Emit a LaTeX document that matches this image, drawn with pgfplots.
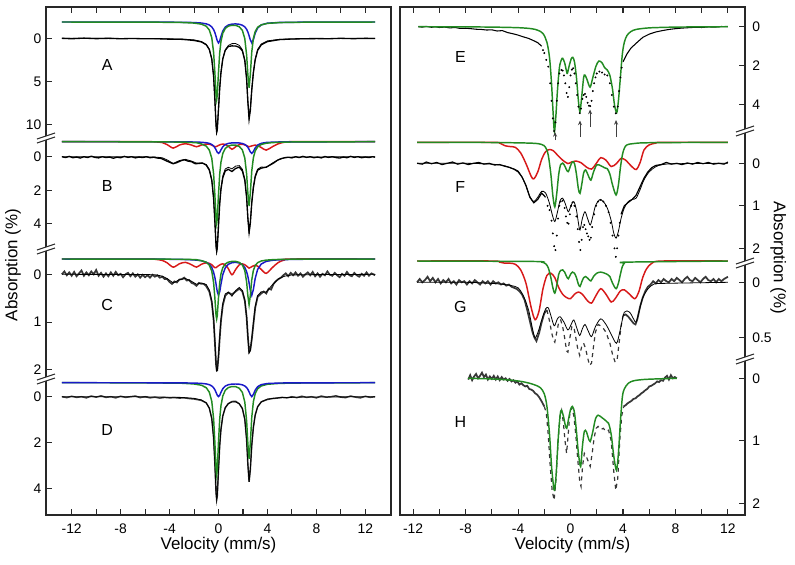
\documentclass[border=0pt]{standalone}
\usepackage{fontspec}
\setmainfont{Liberation Sans}
\usepackage{pgfplots}
\pgfplotsset{compat=1.18}
\usetikzlibrary{arrows.meta}
\definecolor{cgreen}{RGB}{34,139,34}
\definecolor{cblue}{RGB}{25,25,200}
\definecolor{cred}{RGB}{215,25,25}
\definecolor{cdata}{RGB}{55,55,55}
\definecolor{cframe}{RGB}{40,40,40}
\pgfplotsset{
 sA/.style={y filter/.expression={38.3+8.6*y}},
 sAc/.style={y filter/.expression={22+8.6*y}},
 sB/.style={y filter/.expression={156.7+16.8*y}},
 sBc/.style={y filter/.expression={141.7+16.8*y}},
 sC/.style={y filter/.expression={274.3+47.8*y}},
 sCc/.style={y filter/.expression={259+47.8*y}},
 sD/.style={y filter/.expression={396.7+22.9*y}},
 sDc/.style={y filter/.expression={382.7+22.9*y}},
 sE/.style={y filter/.expression={26.7+19.5*y}},
 sF/.style={y filter/.expression={163.3+42.5*y}},
 sFc/.style={y filter/.expression={142.3+42.5*y}},
 sG/.style={y filter/.expression={282.3+110.8*y}},
 sGc/.style={y filter/.expression={261+110.8*y}},
 sH/.style={y filter/.expression={378.3+62.5*y}},
 fitl/.style={black, line width=0.6pt},
 datal/.style={black, line width=1.0pt},
 datag/.style={cdata, line width=1.3pt},
 grn/.style={cgreen, line width=1.1pt},
 blu/.style={cblue, line width=1.1pt},
 rd/.style={cred, line width=1.1pt, smooth, tension=0.5},
 dots/.style={only marks, mark=*, mark size=0.5pt, black},
 panel/.style={scale only axis, width=258.75pt, height=381pt,
  ymin=7, ymax=515, y dir=reverse,
  axis line style={line width=1pt, cframe},
  every tick/.style={line width=0.8pt, cframe},
  major tick length=4.5pt, tick align=inside,
  xtick={-12,-10,-8,-6,-4,-2,0,2,4,6,8,10,12},
  xticklabels={-12,,-8,,-4,,0,,4,,8,,12},
  xtick pos=both, xticklabel pos=lower,
  ticklabel style={font=\fontsize{10.4}{12}\selectfont},
  xticklabel style={yshift=-3pt},
  label style={font=\fontsize{12.7}{15}\selectfont},
  xlabel={Velocity (mm/s)},
  xlabel style={at={(axis description cs:0.5,-0.059)}, anchor=center},
  clip=false},
}
\begin{document}
\begin{tikzpicture}
\path[use as bounding box] (0,0) rectangle (596.25pt,-423pt);
% ================= LEFT PANEL =================
\begin{axis}[panel, at={(34.5pt,-5.25pt)}, anchor=north west,
  xmin=-14.1, xmax=14.1,
  ytick={38.3,81.3,124.3,156.7,190.3,223.9,274.3,322.1,369.9,396.7,442.5,488.3},
  yticklabels={0,5,10,0,2,4,0,1,2,0,2,4},
  ytick pos=left, yticklabel pos=left,
  ylabel={Absorption (\%)},
  ylabel style={at={(axis description cs:-0.096,0.492)}, anchor=center, rotate=0}]
% ---- A ----
\addplot[datal, sA] coordinates {(-12.8,0.0) (-12,0.05) (-11,-0.02) (-10,0.04) (-9,0.0) (-8,0.05) (-7,0.02) (-6,0.06) (-5,0.05) (-4,0.1) (-3,0.12) (-2.5,0.18) (-2,0.25) (-1.4,0.42) (-1.0,0.75) (-0.75,1.3) (-0.55,2.4) (-0.4,4.4) (-0.3,7.0) (-0.2,10.1) (-0.15,10.9) (-0.1,10.6) (0,8.2) (0.1,5.8) (0.2,4.0) (0.35,2.4) (0.55,1.4) (0.8,0.95) (1.1,0.88) (1.4,0.9) (1.7,1.05) (1.95,1.45) (2.15,2.6) (2.3,4.8) (2.4,7.4) (2.5,9.4) (2.6,8.4) (2.72,6.0) (2.85,4.0) (3.0,2.5) (3.2,1.4) (3.5,0.75) (4.0,0.38) (5,0.15) (6,0.08) (7,0.05) (8,0.03) (9,0.05) (10,0.0) (11,0.04) (12,0.01) (12.8,0.02)};
\addplot[fitl, sA] coordinates {(-12.8,0) (-6,.017) (-3,.084) (-2,.185) (-1.4,.366) (-1.0,.705) (-0.75,1.28) (-0.55,2.40) (-0.4,4.43) (-0.3,7.02) (-0.2,10.18) (-0.15,10.98) (-0.1,10.69) (0,8.24) (0.1,5.75) (0.2,3.96) (0.35,2.36) (0.55,1.35) (0.8,.84) (1.1,.62) (1.4,.61) (1.7,.82) (1.95,1.34) (2.15,2.51) (2.3,4.72) (2.4,7.29) (2.5,9.24) (2.6,8.21) (2.72,5.90) (2.85,3.96) (3.0,2.40) (3.2,1.30) (3.5,.66) (4.0,.30) (5,.114) (7,.041) (12.8,0)};
\addplot[blu, sAc] coordinates {(-12.8,0) (-6,.008) (-3,.031) (-2,.062) (-1.4,.118) (-1.0,.214) (-0.75,.348) (-0.55,.569) (-0.4,.883) (-0.3,1.22) (-0.2,1.68) (-0.15,1.94) (-0.1,2.18) (0,2.43) (0.1,2.19) (0.2,1.69) (0.35,1.05) (0.55,.595) (0.8,.353) (1.1,.245) (1.4,.223) (1.7,.264) (1.95,.372) (2.15,.566) (2.3,.852) (2.4,1.16) (2.5,1.59) (2.6,2.08) (2.72,2.43) (2.85,2.04) (3.0,1.30) (3.2,.694) (3.5,.329) (4.0,.139) (5,.05) (7,.017) (12.8,0)};
\addplot[grn, sAc] coordinates {(-12.8,0) (-6,.009) (-3,.053) (-2,.123) (-1.4,.248) (-1.0,.491) (-0.75,.93) (-0.55,1.83) (-0.4,3.55) (-0.3,5.80) (-0.2,8.50) (-0.15,9.04) (-0.1,8.51) (0,5.81) (0.1,3.56) (0.2,2.27) (0.35,1.31) (0.55,.75) (0.8,.48) (1.1,.38) (1.4,.39) (1.7,.56) (1.95,.97) (2.15,1.94) (2.3,3.86) (2.4,6.13) (2.5,7.65) (2.6,6.13) (2.72,3.47) (2.85,1.92) (3.0,1.10) (3.2,.61) (3.5,.33) (4.0,.16) (5,.064) (7,.024) (12.8,0)};
% ---- B ----
\addplot[datal, sB] coordinates {(-12.8,0.0) (-12.5,0.05) (-12.2,-0.02) (-11.9,0.06) (-11.6,0.02) (-11.3,0.08) (-11,0.0) (-10.7,0.05) (-10.4,-0.03) (-10.1,0.04) (-9.8,0.07) (-9.5,0.0) (-9.2,0.05) (-8.9,0.02) (-8.6,0.09) (-8.3,0.03) (-8,0.06) (-7.7,-0.02) (-7.4,0.04) (-7.1,0.0) (-6.8,0.07) (-6.5,0.02) (-6.2,0.05) (-5.9,0.0) (-5.6,0.06) (-5.3,0.03) (-5.0,0.08) (-4.7,0.1) (-4.4,0.2) (-4.1,0.3) (-3.7,0.42) (-3.4,0.35) (-3.1,0.25) (-2.8,0.18) (-2.5,0.26) (-2.2,0.3) (-1.9,0.42) (-1.6,0.4) (-1.3,0.38) (-1.0,.5) (-0.75,.8) (-0.55,1.4) (-0.4,2.5) (-0.3,3.8) (-0.2,5.3) (-0.15,5.6) (-0.1,5.4) (0,4.1) (0.1,2.8) (0.2,1.95) (0.35,1.25) (0.55,.85) (0.8,.75) (1.1,.88) (1.4,.7) (1.7,.62) (1.95,.85) (2.15,1.4) (2.3,2.45) (2.4,3.65) (2.5,4.5) (2.6,3.95) (2.72,2.75) (2.85,1.85) (3.0,1.2) (3.2,.8) (3.5,.68) (3.9,0.62) (4.2,0.5) (4.5,0.38) (4.8,0.22) (5.1,0.12) (5.4,0.06) (5.7,0.03) (6.0,0.07) (6.3,0.0) (6.6,0.05) (6.9,-0.02) (7.2,0.04) (7.5,0.0) (7.8,0.06) (8.1,0.02) (8.4,0.07) (8.7,-0.01) (9.0,0.04) (9.3,0.0) (9.6,0.05) (9.9,0.08) (10.2,0.02) (10.5,0.06) (10.8,-0.02) (11.1,0.04) (11.4,0.0) (11.7,0.06) (12.0,0.02) (12.3,0.05) (12.6,0.0) (12.8,0.03)};
\addplot[fitl, sB] coordinates {(-12.8,0) (-6,.007) (-5.2,.02) (-4.6,.063) (-4.2,.19) (-3.7,.404) (-3.2,.228) (-2.7,.158) (-2.2,.261) (-1.8,.38) (-1.4,.367) (-1.0,.465) (-0.75,.751) (-0.55,1.35) (-0.4,2.43) (-0.3,3.78) (-0.2,5.36) (-0.15,5.72) (-0.1,5.48) (0,4.05) (0.1,2.74) (0.2,1.87) (0.35,1.15) (0.55,.73) (0.8,.63) (1.1,.72) (1.4,.56) (1.7,.53) (1.95,.75) (2.15,1.33) (2.3,2.42) (2.4,3.67) (2.5,4.59) (2.6,3.95) (2.72,2.68) (2.85,1.77) (3.0,1.12) (3.2,.74) (3.5,.61) (3.9,.64) (4.4,.38) (4.9,.17) (5.4,.068) (6,.024) (7,.017) (12.8,0)};
\addplot[rd, sBc] coordinates {(-12.8,0) (-6,0) (-5.2,.01) (-4.6,.05) (-4.2,.17) (-3.7,.38) (-3.2,.2) (-2.7,.12) (-2.2,.2) (-1.8,.3) (-1.4,.2) (-1.0,.14) (-0.75,.15) (-0.55,.2) (-0.4,.26) (-0.3,.3) (-0.2,.29) (-0.1,.26) (0,.22) (0.2,.16) (0.35,.14) (0.55,.16) (0.8,.27) (1.1,.45) (1.4,.3) (1.7,.17) (1.95,.15) (2.15,.19) (2.4,.27) (2.5,.3) (2.72,.25) (3.0,.2) (3.2,.24) (3.5,.35) (3.9,.5) (4.4,.3) (4.9,.12) (5.4,.03) (6,0) (12.8,0)};
\addplot[blu, sBc] coordinates {(-12.8,0) (-6,.002) (-5.2,.003) (-4.6,.003) (-4.2,.005) (-3.7,.006) (-3.2,.007) (-2.7,.01) (-2.2,.015) (-1.8,.021) (-1.4,.034) (-1.0,.061) (-0.75,.1) (-0.55,.164) (-0.4,.254) (-0.3,.351) (-0.2,.482) (-0.15,.559) (-0.1,.628) (0,.698) (0.1,.63) (0.2,.486) (0.35,.301) (0.55,.171) (0.8,.101) (1.1,.07) (1.4,.064) (1.7,.076) (1.95,.107) (2.15,.163) (2.3,.245) (2.4,.333) (2.5,.458) (2.6,.602) (2.72,.698) (2.85,.587) (3.0,.373) (3.2,.2) (3.5,.095) (3.9,.046) (4.4,.025) (4.9,.016) (5.4,.011) (6,.008) (7,.005) (12.8,0)};
\addplot[grn, sBc] coordinates {(-12.8,0) (-6,.005) (-5.2,.007) (-4.6,.01) (-4.2,.015) (-3.7,.018) (-3.2,.021) (-2.7,.028) (-2.2,.046) (-1.8,.059) (-1.4,.133) (-1.0,.264) (-0.75,.501) (-0.55,.987) (-0.4,1.914) (-0.3,3.13) (-0.2,4.59) (-0.15,4.88) (-0.1,4.59) (0,3.13) (0.1,1.92) (0.2,1.22) (0.35,.705) (0.55,.403) (0.8,.257) (1.1,.198) (1.4,.2) (1.7,.283) (1.95,.488) (2.15,.974) (2.3,1.934) (2.4,3.07) (2.5,3.83) (2.6,3.07) (2.72,1.73) (2.85,.959) (3.0,.549) (3.2,.304) (3.5,.164) (3.9,.091) (4.4,.054) (4.9,.036) (5.4,.027) (6,.016) (7,.012) (12.8,0)};
% ---- C ----
\addplot[datag, sC] coordinates {(-12.8,0.0) (-12.6,-0.06) (-12.4,0.02) (-12.2,-0.04) (-12.0,0.03) (-11.8,-0.05) (-11.6,0.04) (-11.4,-0.02) (-11.2,-0.08) (-11.0,0.03) (-10.8,-0.04) (-10.6,0.02) (-10.4,-0.06) (-10.2,0.0) (-10.0,-0.09) (-9.8,0.03) (-9.6,-0.03) (-9.4,0.05) (-9.2,-0.02) (-9.0,0.04) (-8.8,-0.04) (-8.6,0.03) (-8.4,-0.05) (-8.2,0.02) (-8.0,-0.01) (-7.8,0.06) (-7.6,0.0) (-7.4,-0.03) (-7.2,0.04) (-7.0,-0.02) (-6.8,0.05) (-6.6,0.0) (-6.4,0.07) (-6.2,0.01) (-6.0,0.06) (-5.8,0.02) (-5.6,0.07) (-5.4,0.01) (-5.2,0.05) (-5.0,0.02) (-4.8,0.07) (-4.6,0.05) (-4.4,0.1) (-4.2,0.1) (-4.0,0.16) (-3.8,0.2) (-3.6,0.15) (-3.4,0.17) (-3.2,0.11) (-3.0,0.1) (-2.8,0.07) (-2.6,0.13) (-2.4,0.12) (-2.2,0.18) (-2.0,0.2) (-1.8,0.24) (-1.6,0.18) (-1.4,0.2) (-1.2,0.2) (-1.0,.25) (-0.75,.36) (-0.55,.58) (-0.4,.95) (-0.3,1.4) (-0.2,1.88) (-0.15,2.0) (-0.1,2.0) (0,1.72) (0.1,1.33) (0.2,.98) (0.35,.65) (0.55,.45) (0.8,.38) (1.1,.42) (1.4,.36) (1.7,.3) (1.95,.36) (2.15,.55) (2.3,.9) (2.4,1.3) (2.5,1.62) (2.6,1.58) (2.72,1.36) (2.85,1.05) (3.0,.7) (3.2,.47) (3.5,.4) (3.7,0.36) (3.9,0.4) (4.1,0.3) (4.3,0.32) (4.5,0.2) (4.7,0.14) (4.9,0.1) (5.1,0.07) (5.3,0.02) (5.5,-0.02) (5.7,0.04) (5.9,-0.03) (6.1,0.02) (6.3,-0.04) (6.5,0.03) (6.7,-0.02) (6.9,0.05) (7.1,0.0) (7.3,-0.04) (7.5,0.02) (7.7,-0.05) (7.9,0.04) (8.1,-0.02) (8.3,0.05) (8.5,-0.01) (8.7,0.02) (8.9,-0.06) (9.1,0.01) (9.3,0.03) (9.5,-0.03) (9.7,0.02) (9.9,0.06) (10.1,-0.01) (10.3,0.03) (10.5,-0.05) (10.7,0.02) (10.9,0.04) (11.1,-0.03) (11.3,0.02) (11.5,0.05) (11.7,-0.01) (11.9,0.03) (12.1,-0.04) (12.3,0.03) (12.5,-0.02) (12.8,0.02)};
\addplot[fitl, sC] coordinates {(-12.8,0) (-6,.004) (-5.2,.01) (-4.6,.037) (-4.2,.089) (-3.7,.181) (-3.2,.113) (-2.7,.088) (-2.2,.147) (-1.8,.208) (-1.4,.181) (-1.0,.215) (-0.75,.328) (-0.55,.552) (-0.4,.928) (-0.3,1.37) (-0.2,1.88) (-0.15,2.03) (-0.1,2.02) (0,1.71) (0.1,1.30) (0.2,.952) (0.35,.608) (0.55,.409) (0.8,.376) (1.1,.457) (1.4,.34) (1.7,.274) (1.95,.338) (2.15,.541) (2.3,.9) (2.4,1.30) (2.5,1.65) (2.6,1.60) (2.72,1.35) (2.85,1.02) (3.0,.672) (3.2,.443) (3.5,.364) (3.9,.373) (4.4,.221) (4.9,.096) (5.4,.039) (6,.013) (7,.008) (12.8,0)};
\addplot[rd, sCc] coordinates {(-12.8,0) (-6,0) (-5.2,.005) (-4.6,.03) (-4.2,.08) (-3.7,.17) (-3.2,.1) (-2.7,.07) (-2.2,.12) (-1.8,.17) (-1.4,.11) (-1.0,.08) (-0.75,.09) (-0.55,.12) (-0.4,.16) (-0.3,.18) (-0.2,.18) (-0.1,.16) (0,.14) (0.2,.11) (0.35,.1) (0.55,.12) (0.8,.2) (1.1,.33) (1.4,.22) (1.7,.12) (1.95,.1) (2.15,.12) (2.4,.17) (2.5,.19) (2.72,.16) (3.0,.13) (3.2,.15) (3.5,.22) (3.9,.3) (4.4,.18) (4.9,.07) (5.4,.02) (6,0) (12.8,0)};
\addplot[blu, sCc] coordinates {(-12.8,0) (-6,.003) (-5.2,.003) (-4.6,.004) (-4.2,.005) (-3.7,.006) (-3.2,.008) (-2.7,.011) (-2.2,.017) (-1.8,.023) (-1.4,.037) (-1.0,.067) (-0.75,.109) (-0.55,.178) (-0.4,.276) (-0.3,.382) (-0.2,.524) (-0.15,.608) (-0.1,.683) (0,.759) (0.1,.685) (0.2,.528) (0.35,.327) (0.55,.186) (0.8,.11) (1.1,.077) (1.4,.07) (1.7,.083) (1.95,.116) (2.15,.177) (2.3,.266) (2.4,.362) (2.5,.498) (2.6,.655) (2.72,.759) (2.85,.638) (3.0,.405) (3.2,.217) (3.5,.103) (3.9,.05) (4.4,.027) (4.9,.017) (5.4,.012) (6,.009) (7,.005) (12.8,0)};
\addplot[grn, sCc] coordinates {(-12.8,0) (-6,.001) (-5.2,.002) (-4.6,.003) (-4.2,.004) (-3.7,.005) (-3.2,.005) (-2.7,.007) (-2.2,.01) (-1.8,.015) (-1.4,.034) (-1.0,.068) (-0.75,.129) (-0.55,.254) (-0.4,.492) (-0.3,.805) (-0.2,1.18) (-0.15,1.255) (-0.1,1.18) (0,.806) (0.1,.494) (0.2,.314) (0.35,.181) (0.55,.103) (0.8,.066) (1.1,.05) (1.4,.05) (1.7,.071) (1.95,.122) (2.15,.244) (2.3,.484) (2.4,.768) (2.5,.958) (2.6,.768) (2.72,.434) (2.85,.24) (3.0,.137) (3.2,.076) (3.5,.041) (3.9,.023) (4.4,.014) (4.9,.009) (5.4,.007) (6,.004) (7,.003) (12.8,0)};
% ---- D ----
\addplot[datag, line width=1.1pt, sD] coordinates {(-12.8,0.0) (-12.4,0.04) (-12,-0.02) (-11.6,0.03) (-11.2,0.0) (-10.8,0.05) (-10.4,-0.03) (-10,0.02) (-9.6,-0.04) (-9.2,0.03) (-8.8,0.0) (-8.4,0.05) (-8,-0.02) (-7.6,0.03) (-7.2,0.0) (-6.8,-0.03) (-6.4,0.04) (-6,0.0) (-5.6,0.05) (-5.2,0.02) (-4.8,0.06) (-4.4,0.03) (-4,0.05) (-3.6,0.04) (-3.2,0.06) (-2.8,0.05) (-2.4,0.08) (-2,0.1) (-1.4,0.16) (-1.0,.271) (-0.75,.50) (-0.55,.955) (-0.4,1.80) (-0.3,2.88) (-0.2,4.20) (-0.15,4.50) (-0.1,4.33) (0,3.19) (0.1,2.13) (0.2,1.43) (0.35,.844) (0.55,.482) (0.8,.302) (1.1,.21) (1.4,.2) (1.7,.309) (1.95,.515) (2.15,.986) (2.3,1.89) (2.4,2.95) (2.5,3.72) (2.6,3.19) (2.72,2.11) (2.85,1.34) (3.0,.80) (3.2,.437) (3.5,.223) (4.0,0.12) (4.4,0.08) (4.8,0.06) (5.2,0.03) (5.6,0.05) (6,0.0) (6.4,0.04) (6.8,-0.02) (7.2,0.03) (7.6,0.0) (8,0.05) (8.4,-0.03) (8.8,0.02) (9.2,0.0) (9.6,-0.04) (10,0.02) (10.4,0.04) (10.8,-0.03) (11.2,0.02) (11.6,0.05) (12,-0.02) (12.4,0.03) (12.8,0.0)};
\addplot[fitl, sD] coordinates {(-12.8,0) (-6,.006) (-3,.031) (-2,.071) (-1.4,.139) (-1.0,.271) (-0.75,.50) (-0.55,.955) (-0.4,1.80) (-0.3,2.88) (-0.2,4.20) (-0.15,4.50) (-0.1,4.33) (0,3.19) (0.1,2.13) (0.2,1.43) (0.35,.844) (0.55,.482) (0.8,.302) (1.1,.227) (1.4,.226) (1.7,.309) (1.95,.515) (2.15,.986) (2.3,1.89) (2.4,2.95) (2.5,3.72) (2.6,3.19) (2.72,2.11) (2.85,1.34) (3.0,.80) (3.2,.437) (3.5,.223) (4.0,.103) (5,.041) (7,.015) (12.8,0)};
\addplot[grn, sDc] coordinates {(-12.8,0) (-6,.004) (-3,.023) (-2,.055) (-1.4,.11) (-1.0,.218) (-0.75,.413) (-0.55,.813) (-0.4,1.577) (-0.3,2.577) (-0.2,3.777) (-0.15,4.017) (-0.1,3.78) (0,2.58) (0.1,1.583) (0.2,1.007) (0.35,.582) (0.55,.333) (0.8,.214) (1.1,.166) (1.4,.17) (1.7,.243) (1.95,.422) (2.15,.844) (2.3,1.678) (2.4,2.664) (2.5,3.324) (2.6,2.664) (2.72,1.505) (2.85,.832) (3.0,.475) (3.2,.264) (3.5,.141) (4.0,.068) (5,.028) (7,.011) (12.8,0)};
\addplot[blu, sDc] coordinates {(-12.8,0) (-6,.002) (-3,.008) (-2,.016) (-1.4,.029) (-1.0,.053) (-0.75,.087) (-0.55,.142) (-0.4,.221) (-0.3,.305) (-0.2,.419) (-0.15,.486) (-0.1,.546) (0,.607) (0.1,.548) (0.2,.422) (0.35,.262) (0.55,.149) (0.8,.088) (1.1,.061) (1.4,.056) (1.7,.066) (1.95,.093) (2.15,.142) (2.3,.213) (2.4,.29) (2.5,.398) (2.6,.524) (2.72,.607) (2.85,.511) (3.0,.324) (3.2,.173) (3.5,.082) (4.0,.035) (5,.013) (7,.004) (12.8,0)};
% letters
\node[font=\fontsize{12}{14}\selectfont] at (axis cs:-9.1,65) {A};
\node[font=\fontsize{12}{14}\selectfont] at (axis cs:-9.1,186) {B};
\node[font=\fontsize{12}{14}\selectfont] at (axis cs:-9.1,305) {C};
\node[font=\fontsize{12}{14}\selectfont] at (axis cs:-9.1,430) {D};
\end{axis}
% ================= RIGHT PANEL =================
\begin{axis}[panel, at={(300pt,-5.25pt)}, anchor=north west,
  xmin=-13.0, xmax=13.3,
  ytick={26.7,65.7,104.7,163.3,205.8,248.3,282.3,337.7,378.3,440.8,503.3},
  yticklabels={0,2,4,0,1,2,0,0.5,0,1,2},
  ytick pos=right, yticklabel pos=right,
  yticklabel style={xshift=2pt},
  ylabel={Absorption (\%)},
  ylabel style={at={(axis description cs:1.096,0.506)}, anchor=center, rotate=180}]
% ---- E ----
\addplot[datal, line width=0.8pt, sE] coordinates {(-11.6,0.0) (-11.3,0.02) (-11,-0.02) (-10.6,0.03) (-10.3,0.0) (-10,0.04) (-9.6,0.02) (-9.2,0.06) (-8.8,0.04) (-8.4,0.09) (-8,0.08) (-7.6,0.1) (-7.2,0.13) (-6.8,0.14) (-6.4,0.17) (-6,0.16) (-5.6,0.22) (-5.2,0.2) (-4.8,0.3) (-4.4,0.36) (-4,0.43) (-3.6,0.52) (-3.2,0.6) (-2.8,0.72) (-2.5,0.82) (-2.2,1.0)};
\addplot[dots, sE] coordinates {(-2.1,1.2) (-2.0,1.35) (-1.85,1.7) (-1.7,2.05) (-1.55,2.9) (-1.45,3.8) (-1.35,4.7) (-1.25,5.35) (-1.15,4.9) (-1.05,3.8) (-0.95,2.9) (-0.85,2.4) (-0.7,2.22) (-0.6,2.25) (-0.5,2.5) (-0.4,2.9) (-0.3,3.4) (-0.2,3.6) (-0.1,3.1) (0,2.5) (0.1,2.2) (0.2,2.13) (0.3,2.4) (0.4,2.9) (0.5,3.5) (0.6,4.1) (0.7,4.43) (0.8,4.2) (0.9,3.7) (1.0,3.5) (1.1,3.45) (1.2,3.6) (1.3,3.9) (1.4,4.05) (1.5,4.07) (1.6,3.8) (1.7,3.3) (1.8,2.9) (1.9,2.6) (2.0,2.4) (2.2,2.3) (2.4,2.35) (2.6,2.45) (2.8,2.5) (3.0,2.9) (3.15,3.5) (3.3,4.1) (3.45,4.44) (3.6,4.1) (3.7,3.3) (3.8,2.6) (3.9,2.1)};
\addplot[datal, line width=0.8pt, sE] coordinates {(4.0,1.8) (4.3,1.4) (4.6,1.1) (5.0,0.85) (5.5,0.55) (6.0,0.38) (6.5,0.27) (7,0.2) (7.5,0.14) (8,0.1) (8.5,0.07) (9,0.05) (9.5,0.03) (10,0.04) (10.5,0.01) (11,0.02) (11.5,-0.01) (12,0.0)};
\addplot[grn, smooth, tension=0.5, sE] coordinates {(-11.6,0) (-8,0.01) (-6,0.02) (-4,0.05) (-3,0.1) (-2.5,0.18) (-2.1,0.35) (-1.8,0.8) (-1.6,1.6) (-1.45,2.9) (-1.33,4.4) (-1.23,5.38) (-1.12,4.6) (-1.0,3.3) (-0.85,2.1) (-0.7,1.7) (-0.6,1.62) (-0.45,1.85) (-0.3,2.3) (-0.24,2.39) (-0.1,2.0) (0.05,1.65) (0.17,1.57) (0.3,1.8) (0.45,2.6) (0.6,3.8) (0.72,4.36) (0.85,3.6) (1.0,2.6) (1.1,2.48) (1.25,2.7) (1.49,3.1) (1.7,2.6) (1.95,2.0) (2.17,1.76) (2.4,1.85) (2.6,2.1) (2.8,2.22) (3.0,2.5) (3.2,3.2) (3.35,4.0) (3.52,4.41) (3.65,3.8) (3.8,2.6) (3.95,1.4) (4.1,0.8) (4.3,0.45) (4.6,0.25) (5,0.14) (6,0.06) (8,0.02) (10,0.01) (12,0)};
\draw[-{Stealth[length=3.5pt,width=3pt]}, black!75, line width=0.7pt] (axis cs:-1.18,140) -- (axis cs:-1.18,132);
\draw[-{Stealth[length=3.5pt,width=3pt]}, black!75, line width=0.7pt] (axis cs:0.72,137) -- (axis cs:0.72,120.5);
\draw[-{Stealth[length=3.5pt,width=3pt]}, black!75, line width=0.7pt] (axis cs:1.49,127) -- (axis cs:1.49,109.5);
\draw[-{Stealth[length=3.5pt,width=3pt]}, black!75, line width=0.7pt] (axis cs:3.47,137) -- (axis cs:3.47,120);
% ---- F ----
\addplot[datal, line width=0.9pt, sF] coordinates {(-11.7,0.0) (-11.3,0.02) (-11,-0.03) (-10.6,0.01) (-10.2,-0.02) (-9.8,0.03) (-9.4,0.0) (-9,-0.03) (-8.6,0.02) (-8.2,-0.01) (-7.8,0.03) (-7.4,0.0) (-7,-0.02) (-6.6,0.02) (-6.2,0.0) (-5.8,0.04) (-5.4,0.03) (-5,0.07) (-4.6,0.1) (-4.3,0.14) (-4.0,0.2) (-3.7,0.32) (-3.4,0.52) (-3.1,0.8) (-2.8,0.93) (-2.5,0.85) (-2.2,0.7) (-1.9,0.8)};
\addplot[dots, sF] coordinates {(-1.75,1.0) (-1.6,1.1) (-1.45,1.35) (-1.35,1.65) (-1.25,1.95) (-1.15,2.04) (-1.05,1.7) (-0.95,1.3) (-0.85,1.0) (-0.75,0.9) (-0.6,0.88) (-0.45,1.05) (-0.35,1.25) (-0.25,1.4) (-0.15,1.42) (-0.05,1.2) (0.05,1.0) (0.15,0.92) (0.3,1.0) (0.45,1.25) (0.55,1.55) (0.65,1.85) (0.75,2.04) (0.85,1.8) (0.95,1.5) (1.05,1.45) (1.15,1.55) (1.25,1.65) (1.35,1.72) (1.45,1.8) (1.55,1.75) (1.65,1.5) (1.8,1.2) (1.95,1.0) (2.1,0.9) (2.3,0.86) (2.5,0.9) (2.7,1.0) (2.9,1.15) (3.05,1.4) (3.2,1.7) (3.35,2.0) (3.45,2.2) (3.55,2.0) (3.65,1.7) (3.75,1.4)};
\addplot[datal, line width=0.9pt, sF] coordinates {(3.85,1.2) (4.1,1.0) (4.4,0.92) (4.7,0.85) (5.0,0.75) (5.3,0.55) (5.6,0.35) (5.9,0.2) (6.2,0.1) (6.5,0.05) (6.9,0.03) (7.3,-0.02) (7.7,0.02) (8.1,0.0) (8.5,0.03) (8.9,-0.01) (9.3,0.02) (9.7,-0.02) (10.1,0.01) (10.5,-0.02) (10.9,0.02) (11.3,0.0) (11.7,0.02) (12.0,-0.03)};
\addplot[fitl, smooth, tension=0.5, sF] coordinates {(-11.7,0) (-8,0) (-6,0.02) (-5,0.06) (-4.5,0.12) (-4.0,0.18) (-3.5,0.45) (-3.1,0.78) (-2.8,0.9) (-2.5,0.8) (-2.2,0.66) (-1.9,0.7) (-1.6,0.95) (-1.4,1.2) (-1.2,1.37) (-1.0,1.15) (-0.8,0.88) (-0.6,0.82) (-0.4,0.95) (-0.17,1.14) (0.05,0.98) (0.25,0.9) (0.45,1.1) (0.6,1.4) (0.72,1.57) (0.9,1.3) (1.1,1.14) (1.3,1.3) (1.5,1.45) (1.7,1.25) (1.9,1.0) (2.2,0.86) (2.5,0.9) (2.8,1.05) (3.1,1.35) (3.3,1.65) (3.47,1.76) (3.65,1.6) (3.85,1.3) (4.1,1.05) (4.4,0.9) (4.7,0.85) (5.0,0.82) (5.3,0.62) (5.6,0.39) (6.0,0.2) (6.5,0.08) (7,0.03) (8,0.01) (12.0,0)};
\addplot[rd, sFc] coordinates {(-11.7,0) (-6,0) (-5.4,0.02) (-5.0,0.08) (-4.6,0.1) (-4.2,0.12) (-3.8,0.25) (-3.4,0.5) (-3.0,0.8) (-2.8,0.86) (-2.5,0.7) (-2.2,0.4) (-1.9,0.22) (-1.6,0.17) (-1.3,0.2) (-1.0,0.3) (-0.6,0.42) (-0.2,0.5) (0.1,0.46) (0.4,0.44) (0.8,0.48) (1.2,0.58) (1.6,0.63) (2.0,0.48) (2.3,0.36) (2.7,0.42) (3.1,0.57) (3.5,0.5) (3.85,0.38) (4.2,0.42) (4.6,0.55) (5.0,0.64) (5.3,0.48) (5.6,0.18) (6.0,0.06) (6.5,0.02) (7,0) (12.0,0)};
\addplot[grn, smooth, tension=0.5, sFc] coordinates {(-11.7,0) (-6,0.005) (-3,0.02) (-2.2,0.05) (-1.9,0.12) (-1.7,0.3) (-1.5,0.75) (-1.35,1.25) (-1.2,1.52) (-1.05,1.2) (-0.9,0.75) (-0.75,0.52) (-0.6,0.49) (-0.45,0.55) (-0.3,0.65) (-0.17,0.69) (0,0.55) (0.15,0.46) (0.3,0.5) (0.45,0.75) (0.6,1.1) (0.72,1.2) (0.85,1.0) (1.0,0.72) (1.15,0.65) (1.35,0.78) (1.55,0.89) (1.75,0.7) (2.0,0.53) (2.3,0.55) (2.6,0.6) (2.8,0.62) (3.0,0.75) (3.2,1.0) (3.47,1.24) (3.65,1.0) (3.8,0.6) (3.95,0.3) (4.1,0.14) (4.3,0.06) (4.8,0.03) (6,0.01) (12.0,0)};
% ---- G ----
\addplot[datag, sG] coordinates {(-11.7,0.0) (-11.5,-0.03) (-11.3,0.0) (-11.1,-0.02) (-10.9,-0.05) (-10.7,-0.01) (-10.5,-0.04) (-10.3,0.0) (-10.1,-0.03) (-9.9,0.01) (-9.7,-0.02) (-9.5,0.0) (-9.3,-0.03) (-9.1,0.01) (-8.9,-0.01) (-8.7,0.02) (-8.5,-0.02) (-8.3,0.0) (-8.1,-0.01) (-7.9,0.02) (-7.7,-0.01) (-7.5,0.01) (-7.3,-0.02) (-7.1,0.0) (-6.9,0.02) (-6.7,-0.01) (-6.5,0.01) (-6.3,-0.01) (-6.1,0.02) (-5.9,-0.01) (-5.7,0.01) (-5.5,0.0) (-5.3,0.02) (-5.1,0.01) (-4.9,0.03) (-4.7,0.02) (-4.5,0.04) (-4.3,0.05) (-4.1,0.06) (-3.9,0.08) (-3.7,0.11) (-3.5,0.16) (-3.3,0.25) (-3.1,0.35) (-2.9,0.45) (-2.75,0.5) (-2.6,0.53) (-2.4,0.46) (-2.2,0.36) (-2.0,0.28) (-1.8,0.25)};
\addplot[datag, dashed, line width=0.9pt, sG] coordinates {(-1.8,0.25) (-1.6,0.35) (-1.45,0.45) (-1.3,0.52) (-1.2,0.54) (-1.05,0.45) (-0.9,0.36) (-0.75,0.34) (-0.6,0.4) (-0.45,0.5) (-0.3,0.62) (-0.2,0.63) (-0.05,0.5) (0.1,0.4) (0.25,0.4) (0.4,0.5) (0.55,0.6) (0.7,0.66) (0.85,0.58) (1.0,0.55) (1.15,0.6) (1.3,0.68) (1.45,0.75) (1.6,0.73) (1.75,0.58) (1.9,0.45) (2.1,0.38) (2.4,0.4) (2.7,0.45) (3.0,0.55) (3.2,0.65) (3.4,0.72) (3.55,0.7) (3.7,0.55) (3.85,0.4) (4.0,0.3)};
\addplot[datag, sG] coordinates {(4.0,0.3) (4.2,0.29) (4.4,0.31) (4.6,0.34) (4.8,0.37) (4.95,0.38) (5.1,0.33) (5.3,0.22) (5.5,0.14) (5.7,0.08) (5.9,0.04) (6.1,0.02) (6.3,-0.01) (6.5,0.01) (6.7,-0.02) (6.9,0.0) (7.1,-0.03) (7.3,-0.01) (7.5,0.0) (7.7,-0.03) (7.9,-0.01) (8.1,-0.04) (8.3,-0.02) (8.5,0.0) (8.7,-0.03) (8.9,-0.05) (9.1,-0.02) (9.3,-0.01) (9.5,-0.04) (9.7,-0.02) (9.9,0.0) (10.1,-0.03) (10.3,-0.05) (10.5,-0.02) (10.7,-0.01) (10.9,-0.03) (11.1,0.0) (11.3,-0.03) (11.5,-0.01) (11.7,-0.03) (12.0,-0.05)};
\addplot[fitl, smooth, tension=0.5, sG] coordinates {(-11.7,0) (-8,0) (-6,0.01) (-5,0.02) (-4.5,0.03) (-4,0.05) (-3.6,0.12) (-3.2,0.25) (-2.9,0.42) (-2.7,0.5) (-2.45,0.44) (-2.2,0.34) (-1.9,0.24) (-1.7,0.23) (-1.5,0.3) (-1.3,0.38) (-1.2,0.39) (-1.0,0.33) (-0.8,0.31) (-0.5,0.36) (-0.2,0.43) (0.05,0.38) (0.25,0.34) (0.5,0.42) (0.7,0.48) (0.9,0.42) (1.1,0.38) (1.35,0.44) (1.6,0.49) (1.9,0.4) (2.3,0.33) (2.7,0.38) (3.1,0.47) (3.5,0.55) (3.75,0.45) (4.1,0.27) (4.5,0.27) (4.8,0.33) (5.0,0.36) (5.25,0.25) (5.5,0.14) (5.9,0.06) (6.3,0.02) (7,0.01) (12.0,0)};
\addplot[rd, sGc] coordinates {(-11.7,0) (-6,0) (-5.4,0.01) (-5,0.02) (-4.6,0.02) (-4.2,0.03) (-3.8,0.08) (-3.4,0.2) (-3.0,0.42) (-2.7,0.53) (-2.4,0.45) (-2.1,0.25) (-1.8,0.13) (-1.5,0.11) (-1.2,0.15) (-0.9,0.24) (-0.6,0.3) (-0.3,0.33) (0,0.34) (0.3,0.3) (0.6,0.28) (0.9,0.3) (1.3,0.36) (1.6,0.38) (1.9,0.32) (2.3,0.25) (2.7,0.3) (3.1,0.37) (3.4,0.34) (3.8,0.27) (4.1,0.26) (4.5,0.3) (4.9,0.34) (5.2,0.28) (5.5,0.15) (5.8,0.07) (6.2,0.02) (7,0) (12.0,0)};
\addplot[grn, smooth, tension=0.5, sGc] coordinates {(-11.7,0) (-3,0.004) (-2.2,0.01) (-1.9,0.025) (-1.7,0.06) (-1.5,0.15) (-1.35,0.24) (-1.2,0.29) (-1.05,0.22) (-0.9,0.12) (-0.75,0.085) (-0.6,0.08) (-0.45,0.1) (-0.3,0.14) (-0.17,0.16) (0,0.12) (0.15,0.1) (0.3,0.11) (0.45,0.15) (0.6,0.21) (0.72,0.23) (0.85,0.19) (1.0,0.15) (1.15,0.14) (1.35,0.16) (1.55,0.18) (1.75,0.14) (2.0,0.11) (2.3,0.1) (2.6,0.11) (2.8,0.12) (3.0,0.14) (3.2,0.2) (3.47,0.25) (3.65,0.2) (3.8,0.12) (3.95,0.05) (4.1,0.02) (4.3,0.01) (12.0,0)};
% ---- H ----
\addplot[datag, sH] coordinates {(-7.8,0.02) (-7.65,-0.05) (-7.5,0.03) (-7.35,-0.03) (-7.2,-0.07) (-7.05,0.0) (-6.9,-0.04) (-6.75,-0.09) (-6.6,-0.02) (-6.45,-0.06) (-6.3,0.02) (-6.15,-0.03) (-6.0,0.01) (-5.85,-0.04) (-5.7,0.02) (-5.55,-0.03) (-5.4,0.03) (-5.25,-0.02) (-5.1,0.02) (-4.95,0.0) (-4.8,0.04) (-4.65,0.01) (-4.5,0.05) (-4.35,0.03) (-4.2,0.07) (-4.05,0.05) (-3.9,0.1) (-3.75,0.08) (-3.6,0.11) (-3.45,0.13) (-3.3,0.12) (-3.15,0.17) (-3.0,0.18) (-2.85,0.2) (-2.7,0.24) (-2.55,0.26) (-2.4,0.3) (-2.2,0.37) (-2.0,0.45)};
\addplot[datag, dashed, line width=0.9pt, sH] coordinates {(-2.0,0.45) (-1.85,0.55) (-1.7,0.9) (-1.55,1.4) (-1.4,1.8) (-1.25,1.95) (-1.1,1.6) (-0.95,1.0) (-0.8,0.6) (-0.68,0.51) (-0.55,0.7) (-0.42,1.0) (-0.3,1.2) (-0.18,0.9) (-0.05,0.55) (0.1,0.47) (0.25,0.6) (0.4,0.9) (0.55,1.3) (0.7,1.65) (0.8,1.73) (0.92,1.4) (1.05,1.2) (1.2,1.25) (1.35,1.33) (1.5,1.41) (1.65,1.2) (1.8,0.95) (1.95,0.8) (2.1,0.77) (2.3,0.82) (2.5,0.8) (2.7,0.85) (2.9,0.83) (3.1,1.0) (3.3,1.5) (3.45,1.79) (3.6,1.6) (3.75,1.0) (3.9,0.6) (4.05,0.45)};
\addplot[datag, sH] coordinates {(4.05,0.45) (4.2,0.43) (4.35,0.4) (4.5,0.38) (4.65,0.36) (4.8,0.33) (4.95,0.32) (5.1,0.29) (5.25,0.27) (5.4,0.24) (5.55,0.22) (5.7,0.19) (5.85,0.17) (6.0,0.13) (6.15,0.12) (6.3,0.1) (6.45,0.08) (6.6,0.05) (6.75,0.06) (6.9,0.03) (7.05,0.04) (7.2,-0.01) (7.35,-0.04) (7.5,0.02) (7.65,-0.05) (7.8,0.0) (7.95,-0.02) (8.1,0.0)};
\addplot[grn, smooth, tension=0.5, sH] coordinates {(-7.8,0) (-6,0.01) (-4.5,0.03) (-3.5,0.06) (-2.8,0.1) (-2.3,0.15) (-2.0,0.25) (-1.8,0.45) (-1.6,0.9) (-1.45,1.4) (-1.3,1.72) (-1.22,1.79) (-1.1,1.55) (-0.95,1.0) (-0.8,0.6) (-0.7,0.51) (-0.55,0.6) (-0.4,0.75) (-0.29,0.8) (-0.15,0.65) (0.0,0.5) (0.15,0.45) (0.3,0.55) (0.45,0.85) (0.6,1.2) (0.77,1.41) (0.9,1.1) (1.05,0.85) (1.2,0.85) (1.35,0.95) (1.5,1.01) (1.7,0.85) (1.9,0.65) (2.1,0.59) (2.4,0.63) (2.7,0.68) (2.9,0.72) (3.1,0.9) (3.3,1.25) (3.5,1.47) (3.65,1.2) (3.8,0.7) (3.95,0.3) (4.1,0.17) (4.4,0.08) (4.8,0.04) (5.5,0.02) (6.5,0.01) (8.1,0)};
\node[font=\fontsize{12}{14}\selectfont] at (axis cs:-8.4,57) {E};
\node[font=\fontsize{12}{14}\selectfont] at (axis cs:-8.4,187) {F};
\node[font=\fontsize{12}{14}\selectfont] at (axis cs:-8.4,307) {G};
\node[font=\fontsize{12}{14}\selectfont] at (axis cs:-8.4,422) {H};
\end{axis}
% ================= axis breaks =================
\begin{scope}[x=0.75pt,y=-0.75pt]
\foreach \bx/\by in {46/138, 46/249, 46/379, 745/131, 745/263, 745/359}{
  \fill[white] (\bx-9,\by+5) -- (\bx+9,\by-1) -- (\bx+9,\by-5) -- (\bx-9,\by+1) -- cycle;
  \draw[cframe, line width=0.8pt] (\bx-9,\by+5) -- (\bx+9,\by-1);
  \draw[cframe, line width=0.8pt] (\bx-9,\by+1) -- (\bx+9,\by-5);
}
\end{scope}
\end{tikzpicture}
\end{document}
